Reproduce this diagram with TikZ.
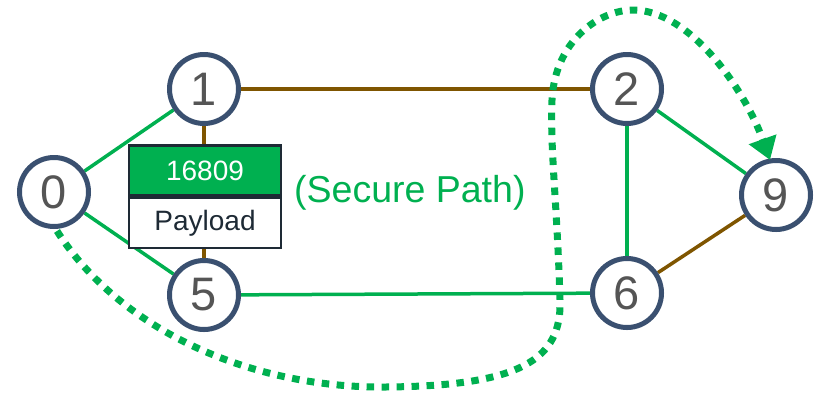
\documentclass[tikz,border=0pt]{standalone}
\usepackage{fontspec}
\setmainfont{Liberation Sans}
\usetikzlibrary{arrows.meta,backgrounds}
\definecolor{cgreen}{HTML}{00B050}
\definecolor{cbrown}{HTML}{7F5500}
\definecolor{cnode}{HTML}{3A5070}
\definecolor{cdigit}{HTML}{555555}
\definecolor{cbox}{HTML}{1E2A35}
\begin{document}
\begin{tikzpicture}[x=1pt,y=-1pt,
  rnode/.style={circle,draw=cnode,line width=5pt,fill=white,minimum size=69pt,inner sep=0pt,
    text=cdigit,font=\fontsize{47}{47}\selectfont},
  glink/.style={draw=cgreen,line width=3.5pt},
  blink/.style={draw=cbrown,line width=3.5pt},
  hdr/.style={draw=cbox,line width=2.5pt,fill=cgreen,text=white,minimum width=152pt,minimum height=50pt,inner sep=0pt,
    font=\fontsize{28}{28}\selectfont},
  pay/.style={draw=cbox,line width=2.5pt,fill=white,text=cbox,minimum width=152pt,minimum height=50pt,inner sep=0pt,
    font=\fontsize{28}{28}\selectfont},
  secpath/.style={draw=cgreen,line width=7pt,dash pattern=on 7.5pt off 7.5pt}]
\useasboundingbox (0,0) rectangle (818,392);
\node[rnode] (n0) at (54,192) {0};
\node[rnode] (n1) at (204,89) {1};
\node[rnode] (n5) at (204,295) {5};
\node[rnode] (n2) at (627,89) {2};
\node[rnode] (n6) at (627,293) {6};
\node[rnode] (n9) at (776,195) {9};
\begin{scope}[on background layer]
\path[glink] (n0) -- (n1);
\path[glink] (n0) -- (n5);
\path[blink] (n1) -- (n5);
\path[blink] (n1) -- (n2);
\path[glink] (n5) -- (n6);
\path[glink] (n2) -- (n6);
\path[glink] (n2) -- (n9);
\path[blink] (n6) -- (n9);
\end{scope}
\node[hdr] (lbl) at (205,170.5) {16809};
\node[pay,anchor=north] (pl) at (lbl.south) {Payload};
\node[text=cgreen,font=\fontsize{37.5}{37.5}\selectfont,anchor=west,inner sep=0pt] (sp) at (294,193) {(Secure Path)};
\coordinate (s0) at (57,231);
\coordinate (b1) at (385,387);
\coordinate (b2) at (560,300);
\coordinate (b3) at (552,100);
\coordinate (b4) at (633,10);
\coordinate (e9) at (770,160);
\draw[secpath,-{Triangle[length=22pt,width=28pt]}] (s0) .. controls (120,330) and (250,388) .. (b1)
  .. controls (520,386) and (562,360) .. (b2)
  .. controls (557,200) and (550,150) .. (b3)
  .. controls (555,40) and (600,10) .. (b4)
  .. controls (690,10) and (745,90) .. (e9);
\end{tikzpicture}
\end{document}
